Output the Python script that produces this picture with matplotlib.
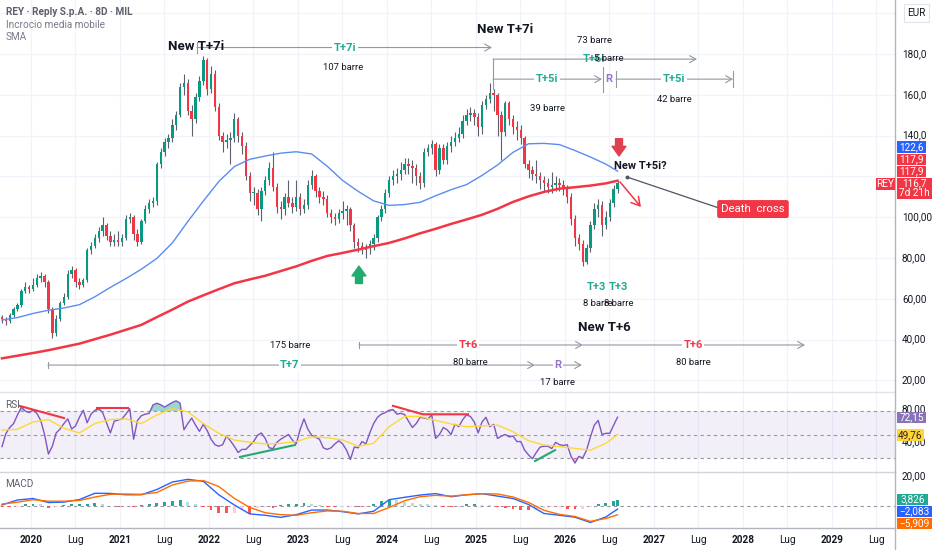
import numpy as np
import matplotlib
matplotlib.use("Agg")
import matplotlib.pyplot as plt
from matplotlib.patches import Rectangle
from matplotlib.lines import Line2D
from matplotlib.transforms import blended_transform_factory

plt.rcParams['font.family'] = ['Roboto', 'DejaVu Sans']

# -------------------------------
# DATA (one candle ~ 16 days)
# -------------------------------
T0 = 2019.674        # time of first candle, decimal years
STEP = 0.0435        # candle spacing, years
FIRST_OPEN = 51

closes = [50, 49, 52, 55, 57, 64, 66, 65, 67, 70, 71, 68, 55, 43, 50, 58, 61, 72, 74, 68,
          67, 69, 84, 86, 90, 93, 96, 91, 88, 89, 88, 90, 99, 100, 92, 88, 98, 104, 107, 108,
          126, 132, 137, 139, 145, 150, 164, 166, 152, 148, 159, 167, 177, 163, 170, 154, 140, 137, 138, 139,
          148, 140, 135, 120, 112, 112, 104, 113, 118, 124, 115, 105, 104, 110, 107, 105, 110, 104, 106, 116,
          120, 113, 110, 109, 102, 100, 99, 102, 103, 104, 96, 88, 86, 84, 85, 87, 90, 100, 104, 112,
          118, 120, 121, 123, 126, 125, 124, 120, 117, 132, 134, 136, 123, 134, 128, 135, 137, 139, 141, 147,
          150, 151, 149, 144, 155, 158, 161, 160, 150, 142, 156, 148, 144, 143, 139, 126, 123, 121, 120, 118,
          117, 115, 116, 117, 116, 114, 110, 99, 90, 87, 78, 85, 96, 104, 106, 96, 100, 107, 114, 116.7]
highs = [52, 51, 53, 56, 58, 65, 68, 67, 70, 72, 73, 72, 69, 56, 52, 59, 63, 74, 76, 75,
         70, 70, 85, 88, 92, 95, 100, 97, 93, 92, 93, 92, 101, 102, 101, 94, 99, 106, 109, 110,
         127, 134, 139, 141, 148, 152, 166, 170, 168, 155, 161, 169, 179, 178, 174, 172, 156, 142, 141, 142,
         151, 149, 142, 137, 122, 115, 114, 115, 120, 127, 132, 117, 108, 112, 118, 110, 118, 112, 109, 118,
         123, 121, 115, 113, 111, 104, 102, 104, 108, 106, 105, 97, 90, 88, 87, 89, 92, 101, 106, 114,
         120, 123, 124, 127, 129, 129, 128, 126, 122, 134, 136, 138, 137, 136, 136, 137, 140, 142, 144, 150,
         153, 154, 153, 151, 157, 160, 166, 163, 161, 152, 157, 157, 150, 147, 145, 140, 128, 125, 128, 122,
         120, 119, 122, 120, 119, 118, 116, 112, 101, 92, 89, 87, 98, 107, 109, 108, 103, 109, 116, 117.9]
lows = [48, 47, 48, 51, 54, 56, 63, 63, 64, 66, 68, 66, 53, 41, 42, 49, 57, 60, 70, 66,
        65, 66, 68, 82, 85, 88, 91, 89, 86, 86, 86, 86, 89, 97, 89, 86, 87, 97, 102, 105,
        106, 124, 130, 134, 137, 143, 149, 160, 150, 140, 146, 157, 165, 160, 161, 152, 138, 132, 134, 126,
        137, 137, 131, 118, 108, 106, 101, 98, 111, 116, 113, 102, 99, 101, 105, 102, 103, 101, 102, 104,
        114, 110, 107, 106, 100, 97, 96, 97, 99, 96, 93, 85, 83, 82, 80, 82, 84, 88, 98, 102,
        110, 116, 117, 118, 121, 121, 117, 116, 114, 115, 130, 131, 120, 121, 126, 126, 132, 135, 137, 139,
        145, 147, 145, 140, 141, 153, 156, 152, 140, 128, 140, 145, 141, 138, 136, 124, 119, 118, 117, 114,
        113, 112, 112, 113, 113, 111, 107, 96, 86, 84, 76, 77, 83, 94, 100, 91, 94, 98, 105, 112]

# moving averages, sampled every 4 candles (last sample = last candle)
ma_idx = list(range(0, 160, 4)) + [159]
sma_fast = [49.6, 50.8, 52.8, 54.4, 55.5, 57.1, 61, 65.6, 69.9, 74.5, 79.8, 87.4, 97.9, 107.9, 117.5, 124.8,
            128.4, 130, 131.4, 132.1, 131, 125, 118, 112.7, 108, 105.8, 106.2, 107.3, 110.5, 113.5, 116,
            120.5, 125.6, 131.8, 136, 136.2, 135.6, 132.7, 129.5, 126, 122.6]
sma_slow = [30.8, 32.1, 33.4, 34.8, 36.4, 38, 40.2, 42.4, 44.8, 47.2, 51, 54.7, 58.6, 61.7, 64.7, 67.6,
            69.5, 71.3, 73.6, 75.9, 78.6, 81, 82.5, 84.1, 85.8, 87.4, 89.6, 92.1, 94.3, 96.7, 98.9,
            101.2, 104.1, 107.5, 110.2, 112.4, 114, 114.7, 115.5, 116.6, 117.9]

rsi = [34.5, 51, 59, 64, 75, 85, 80, 78, 81, 77, 68, 50, 25, 35, 52, 57, 64, 70, 57, 61,
       72, 81, 65, 76, 81, 83, 78, 65, 52, 67, 68.5, 70, 76, 83, 44, 68, 74, 76, 77, 87.7,
       90, 88, 85, 88, 91, 93, 90, 56, 64, 71, 62, 54, 63, 55, 44, 37, 35, 37, 48, 42,
       35, 27, 31, 31, 36, 41, 49, 52, 45, 33, 32, 40, 44, 47, 50, 43, 38, 56, 70, 57,
       49, 46.5, 44, 33, 31, 33, 38, 42, 38, 30, 18, 34, 33, 41, 38, 52, 64, 72, 76, 78,
       81, 82, 76, 77, 75.5, 67, 59, 64, 72, 71, 70, 75, 45, 50, 59, 56, 50, 63, 60, 69,
       75, 73, 66, 52, 66, 72, 60, 63, 45, 48, 50, 47, 48, 41, 41, 30, 24, 19, 27, 34,
       35, 35, 32, 40, 37, 36, 37, 22, 13.5, 22, 20, 30, 47, 62, 68, 50, 51.5, 51.5, 62, 72.15]
rsi_ma_idx = list(range(0, 160, 4)) + [159]
rsi_ma = [55.7, 56.6, 66, 69, 58, 52, 64, 69, 70, 64, 75, 83, 79, 64, 51.5, 43, 40, 38, 38.7, 41,
          47, 46, 43, 35, 38.7, 60, 73, 73, 68, 63.4, 60, 61, 62, 53.6, 42, 36.6, 34.5, 32.3, 30, 38.7, 49.76]

macd_idx = list(range(0, 160, 4)) + [159]
macd_line = [0.7, 4, 5, 2.3, 2.6, 4.3, 8.5, 8.4, 7.5, 7.5, 11, 16, 17.8, 16.5, 7.5, 0.7, -5.3, -6.2, -7.6, -5.8,
             -2.7, -2.7, -3.8, -5.3, -3.5, 4.2, 5.8, 7.3, 8.3, 6.2, 7.5, 8.2, 6.6, 5, 1, -5, -6.2, -7.5, -11, -7.3, -2.083]
signal_line = [1.3, 2.5, 4.2, 3.2, 3.2, 3.7, 6, 7.8, 8, 7.8, 9, 14, 16.6, 17, 13, 5.1, -1, -4.5, -5.8, -6.2,
               -4.5, -3.3, -3.5, -5, -5, -1, 3.5, 6.2, 7.1, 6.6, 7.5, 8.2, 8, 6, 2.4, -2.9, -5.6, -7, -10.3, -8.3, -5.909]
hist_idx = list(range(0, 160, 2)) + [159]
hist = [-0.6, -0.6, -0.4, 1.0, 1.2, 1.0, -1.5, -1.0, 0.8, 1.2, 1.4, 1.6, 1.8, 1.2, 0.3, -0.4, -0.3, -0.5, 0.5, 1.2,
        2.0, 2.8, 3.2, 4.0, 2.5, 1.2, -0.8, -3.0, -4.5, -5.0, -4.5, -3.0, -5.5, -1.5, -1.0, -1.2, 0.5, 1.0, 1.5, 2.0,
        1.0, 0.5, -0.5, -0.8, -0.6, -0.4, -0.8, -0.5, 1.5, 3.5, 4.2, 3.8, 2.5, 2.0, 1.2, 1.0, 0.8, -0.5, -0.8, -0.5,
        1.0, 1.2, 0.6, 0.4, -0.8, -1.5, -2.0, -2.5, -3.0, -2.6, -1.2, -1.0, -0.8, -1.8, -2.2, -2.0, -0.5, 1.5, 2.2, 3.0, 3.826]

# trendlines drawn on the RSI pane: (time, rsi) anchors
rsi_red_lines = [[(2019.876, 86.4), (2020.371, 71.0)],
                 [(2020.742, 83.8), (2021.090, 83.8)],
                 [(2024.067, 86.6), (2024.404, 75.8), (2024.910, 75.8)]]
rsi_green_lines = [[(2022.348, 21.3), (2022.966, 36.6)],
                   [(2025.663, 16.1), (2025.888, 30.0)]]

year_ticks = list(range(2020, 2030))
half_ticks = [y + 0.496 for y in range(2020, 2030)]
price_ticks = [180, 160, 140, 100, 80, 60, 40, 20]
price_labels = ["180,0", "160,0", "140,0", "100,00", "80,00", "60,00", "40,00", "20,00"]

# -------------------------------
# STYLE
# -------------------------------
UP, DOWN, WICK = '#089981', '#f23645', '#5d606b'
GRID = '#f0f3fa'
GREY = '#9598a1'
TXT = '#131722'
GREEN_TXT = '#22ab94'
RED_TXT = '#f23645'
PURPLE_TXT = '#9575cd'

W, H = 932, 550
fig = plt.figure(figsize=(W / 100, H / 100), dpi=100)


def fx(px):
    return px / W


def fy(py):
    return 1 - py / H


ax = fig.add_axes([0, fy(392), fx(895), 392 / H])
ax_rsi = fig.add_axes([0, fy(472), fx(895), 80 / H], sharex=ax)
ax_macd = fig.add_axes([0, fy(528), fx(895), 56 / H], sharex=ax)

ax.set_xlim(2019.6517, 2029.708)
ax.set_ylim(14.3, 206.5)
ax_rsi.set_ylim(2.1, 104.3)
ax_macd.set_ylim(-14.7, 22.7)

for a in (ax, ax_rsi, ax_macd):
    for s in a.spines.values():
        s.set_visible(False)
    a.tick_params(left=False, right=False, bottom=False, labelleft=False, labelbottom=False)
    for t in year_ticks + half_ticks:
        a.axvline(t, color=GRID, lw=0.9, zorder=0)
for p in range(20, 201, 20):
    ax.axhline(p, color=GRID, lw=0.9, zorder=0)

# -------------------------------
# CANDLES + MOVING AVERAGES
# -------------------------------
closes = np.array(closes, float)
highs = np.array(highs, float)
lows = np.array(lows, float)
opens = np.r_[FIRST_OPEN, closes[:-1]]
N = len(closes)
bar_t = T0 + STEP * np.arange(N)
up = closes >= opens
cols = np.where(up, UP, DOWN)

ax.vlines(bar_t, lows, highs, color=WICK, lw=0.8, zorder=2)
body = np.maximum(np.abs(closes - opens), 0.4)
ax.bar(bar_t, body, bottom=np.minimum(opens, closes), width=STEP * 0.62,
       color=cols, lw=0, zorder=3)

ax.plot(bar_t[ma_idx], sma_fast, color='#5b8def', lw=1.0, zorder=4)
ax.plot(bar_t[ma_idx], sma_slow, color='#f23645', lw=1.8, zorder=4)

# -------------------------------
# ANNOTATIONS ON PRICE PANE
# -------------------------------
def measure(a, t0, t1, p, arrow=True, tick0=False, tick1=False, tick_h=4.0):
    style = '->,head_length=0.45,head_width=0.25' if arrow else '-'
    a.annotate('', xy=(t1, p), xytext=(t0, p),
               arrowprops=dict(arrowstyle=style, color=GREY, lw=0.8, shrinkA=0, shrinkB=0), zorder=5)
    if tick0:
        a.plot([t0, t0], [p - tick_h, p + tick_h], color=GREY, lw=0.8, zorder=5)
    if tick1:
        a.plot([t1, t1], [p - tick_h, p + tick_h], color=GREY, lw=0.8, zorder=5)


def label(a, t, p, s, color, size=8, weight='bold', box=True):
    kw = dict(bbox=dict(fc='white', ec='none', pad=1.0)) if box else {}
    a.text(t, p, s, color=color, fontsize=size, fontweight=weight, ha='center', va='center', zorder=6, **kw)


def note(a, t, p, s, size=6.8):
    a.text(t, p, s, color=TXT, fontsize=size, ha='center', va='center', zorder=6)


# top left legend
fig.text(fx(6), fy(12), "REY · Reply S.p.A. · 8D · MIL", fontsize=7.2, fontweight='bold', color='#5d606b', va='center')
fig.text(fx(6), fy(25), "Incrocio media mobile", fontsize=7.2, color='#787b86', va='center')
fig.text(fx(6), fy(37), "SMA", fontsize=7.2, color='#787b86', va='center')

ax.text(2021.854, 183.9, "New T+7i", fontsize=9.5, fontweight='bold', color=TXT, ha='center', va='center', zorder=6)
measure(ax, 2021.865, 2025.180, 183.2, tick0=True, tick_h=2.5)
label(ax, 2023.528, 183.2, "T+7i", GREEN_TXT)
note(ax, 2023.506, 173.6, "107 barre")

ax.text(2025.326, 191.8, "New T+7i", fontsize=9.5, fontweight='bold', color=TXT, ha='center', va='center', zorder=6)
measure(ax, 2025.191, 2027.483, 177.5)
ax.plot([2025.191, 2025.191], [163, 177.5], color=GREY, lw=0.8, zorder=5)
label(ax, 2026.326, 177.5, "T+6i", GREEN_TXT, box=False)
note(ax, 2026.494, 178.0, "5 barre")
note(ax, 2026.337, 186.4, "73 barre")

measure(ax, 2025.191, 2026.416, 167.7)
label(ax, 2025.798, 167.7, "T+5i", GREEN_TXT)
note(ax, 2025.798, 153.5, "39 barre")
ax.plot([2026.427, 2026.427], [161.4, 173.6], color=GREY, lw=0.8, zorder=5)
label(ax, 2026.494, 167.7, "R", PURPLE_TXT, box=False)
measure(ax, 2026.573, 2027.888, 167.7, tick0=True, tick1=True)
label(ax, 2027.225, 167.7, "T+5i", GREEN_TXT)
note(ax, 2027.225, 157.5, "42 barre")

# red block arrow, "New T+5i?" and death cross callout
ax.annotate('', xy=(2026.607, 130.0), xytext=(2026.607, 138.5),
            arrowprops=dict(arrowstyle='simple,head_width=1.0,head_length=0.7,tail_width=0.5',
                            color='#e0414f', shrinkA=0, shrinkB=0), zorder=6)
ax.text(2026.551, 125.1, "New T+5i?", fontsize=8, fontweight='bold', color=TXT, ha='left', va='center', zorder=6)
ax.plot([2026.697, 2027.764], [119.7, 104.0], color='#50535e', lw=0.9, zorder=5)
ax.plot([2026.697], [119.7], 'o', color='#50535e', ms=1.8, zorder=5)
ax.text(2028.112, 104.0, "Death  cross", fontsize=8.2, color='white', ha='center', va='center', zorder=7,
        bbox=dict(boxstyle='round,pad=0.35,rounding_size=0.2', fc='#f23645', ec='none'))
ax.annotate('', xy=(2026.854, 105.0), xytext=(2026.618, 117.3),
            arrowprops=dict(arrowstyle='->,head_length=0.6,head_width=0.35', color='#f23645', lw=1.1,
                            shrinkA=0, shrinkB=0), zorder=6)

# green up arrow under 2023 low
ax.annotate('', xy=(2023.685, 76.0), xytext=(2023.685, 67.5),
            arrowprops=dict(arrowstyle='simple,head_width=1.0,head_length=0.7,tail_width=0.5',
                            color='#22ab6f', shrinkA=0, shrinkB=0), zorder=6)

label(ax, 2026.348, 65.8, "T+3", GREEN_TXT, box=False)
label(ax, 2026.596, 65.8, "T+3", GREEN_TXT, box=False)
note(ax, 2026.371, 57.9, "8 barre")
note(ax, 2026.607, 57.9, "8 barre")
ax.text(2026.438, 45.7, "New T+6", fontsize=9.5, fontweight='bold', color=TXT, ha='center', va='center', zorder=6)

measure(ax, 2023.685, 2026.202, 37.35, tick0=True, tick_h=1.5)
label(ax, 2024.910, 37.35, "T+6", RED_TXT)
note(ax, 2024.933, 29.0, "80 barre")
measure(ax, 2026.202, 2028.697, 37.35)
label(ax, 2027.438, 37.35, "T+6", RED_TXT)
note(ax, 2027.438, 29.0, "80 barre")

note(ax, 2022.910, 36.9, "175 barre")
measure(ax, 2020.191, 2025.663, 27.5, tick0=True, tick_h=1.5)
label(ax, 2022.910, 27.5, "T+7", GREEN_TXT)
measure(ax, 2025.663, 2026.191, 27.5)
label(ax, 2025.921, 27.5, "R", PURPLE_TXT)
note(ax, 2025.921, 19.2, "17 barre")

# -------------------------------
# RSI PANE
# -------------------------------
rsi = np.array(rsi, float)
ax_rsi.axhspan(20, 80, color='#7e57c2', alpha=0.09, lw=0, zorder=0)
for lvl in (80, 50, 20):
    ax_rsi.axhline(lvl, color='#9598a1', lw=0.8, ls=(0, (3, 3)), zorder=1)
ax_rsi.fill_between(bar_t, rsi, 80, where=rsi > 80, interpolate=True, color='#26a69a', alpha=0.45, lw=0, zorder=2)
ax_rsi.fill_between(bar_t, rsi, 20, where=rsi < 20, interpolate=True, color='#f23645', alpha=0.3, lw=0, zorder=2)
ax_rsi.plot(bar_t, rsi, color='#7e57c2', lw=1.0, zorder=3)
ax_rsi.plot(bar_t[rsi_ma_idx], rsi_ma, color='#fdd835', lw=1.0, zorder=3)
for seg in rsi_red_lines:
    ts, vs = zip(*seg)
    ax_rsi.plot(ts, vs, color='#f23645', lw=1.5, zorder=4)
for seg in rsi_green_lines:
    ts, vs = zip(*seg)
    ax_rsi.plot(ts, vs, color='#22ab6f', lw=1.5, zorder=4)
ax_rsi.text(0.006, 0.84, "RSI", transform=ax_rsi.transAxes, fontsize=7.2, color='#5d606b', va='center')

# -------------------------------
# MACD PANE
# -------------------------------
hist = np.array(hist, float)
hcols = []
for i, h in enumerate(hist):
    prev = hist[i - 1] if i > 0 else 0
    if h >= 0:
        hcols.append('#26a69a' if h >= prev else '#b2dfdb')
    else:
        hcols.append('#ff5252' if h <= prev else '#ffcdd2')
ax_macd.axhline(0, color='#9598a1', lw=0.8, ls=(0, (3, 3)), zorder=1)
ax_macd.bar(bar_t[hist_idx], hist, width=STEP * 0.75, color=hcols, lw=0, zorder=2)
ax_macd.plot(bar_t[macd_idx], macd_line, color='#2962ff', lw=1.0, zorder=3)
ax_macd.plot(bar_t[macd_idx], signal_line, color='#ff6d00', lw=1.0, zorder=3)
ax_macd.text(0.006, 0.78, "MACD", transform=ax_macd.transAxes, fontsize=7.2, color='#5d606b', va='center')

# -------------------------------
# AXES, SEPARATORS, PRICE TAGS
# -------------------------------
trans_price = blended_transform_factory(fig.transFigure, ax.transData)
for p, s in zip(price_ticks, price_labels):
    fig.text(fx(902), p, s, transform=trans_price, fontsize=7.2, color=TXT, va='center')
trans_rsi = blended_transform_factory(fig.transFigure, ax_rsi.transData)
fig.text(fx(902), 82, "80,00", transform=trans_rsi, fontsize=7.2, color=TXT, va='center')
fig.text(fx(902), 40, "40,00", transform=trans_rsi, fontsize=7.2, color=TXT, va='center')
trans_macd = blended_transform_factory(fig.transFigure, ax_macd.transData)
fig.text(fx(902), 20, "20,00", transform=trans_macd, fontsize=7.2, color=TXT, va='center')

for t in year_ticks:
    fig.text(fx(31 + (t - 2020) * 89), fy(540), str(t), fontsize=7.2, fontweight='bold',
             color=TXT, ha='center', va='center')
for t in half_ticks:
    fig.text(fx(31 + (t - 2020) * 89), fy(540), "Lug", fontsize=7.2, color=TXT, ha='center', va='center')

for ypx, c in ((392, '#e0e3eb'), (472, '#d1d4dc'), (528, '#b2b5be')):
    fig.add_artist(Line2D([0, fx(895)], [fy(ypx), fy(ypx)], color=c, lw=1.0, transform=fig.transFigure))
fig.add_artist(Line2D([fx(895), fx(895)], [0, 1], color='#b2b5be', lw=1.0, transform=fig.transFigure))


def tag(x0, x1, y0, y1, text, fc, tc='white', size=7.2, ec='none'):
    fig.add_artist(Rectangle((fx(x0), fy(y1)), fx(x1) - fx(x0), (y1 - y0) / H, transform=fig.transFigure,
                             fc=fc, ec=ec, lw=0.8, zorder=10))
    fig.text(fx((x0 + x1) / 2), fy((y0 + y1) / 2), text, fontsize=size, color=tc, ha='center', va='center',
             zorder=11, linespacing=1.0)


tag(904, 929, 4, 22, "EUR", 'white', TXT, ec='#e0e3eb')
tag(897, 926, 141, 153, "122,6", '#2962ff')
tag(897, 926, 154, 165, "117,9", '#f23645')
tag(897, 926, 166, 177, "117,9", '#f23645')
tag(897, 932, 178, 199, "116,7\n7d 21h", '#f23645')
tag(876, 895, 178, 190, "REY", '#f23645')
tag(897, 926, 412, 423, "72,15", '#8a74b8')
tag(897, 924, 429, 441, "49,76", '#fdd835', '#3b1f1f')
tag(897, 928, 494, 505, "3,826", '#22ab94')
tag(897, 932, 506, 517, "\u22122,083", '#2962ff')
tag(897, 932, 518, 529, "\u22125,909", '#ff6d00')

fig.savefig("out.png", dpi=100, facecolor='white')
